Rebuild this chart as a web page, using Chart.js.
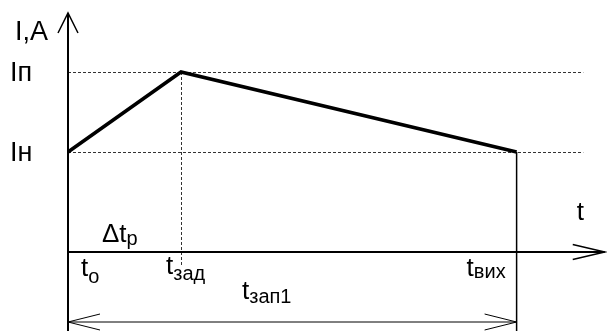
<!DOCTYPE html>
<html>
<head>
<meta charset="utf-8">
<script src="https://cdn.jsdelivr.net/npm/chart.js@4"></script>
<style>
	body{margin:0;background:#fff;}
	#wrap{width:607px;height:331px;}
</style>
</head>
<body>
<div id="wrap"><canvas id="chart" width="607" height="331"></canvas></div>
<script>
// time marks: t_o, t_зад, t_вих (in units of t_зад - t_o)
const timeValues = [0, 1, 3.97];
const timeSubs = ["о", "зад", "вих"];
// current at those marks (in units of Iн)
const currentValues = [1, 1.8, 1];
// level labels on the I axis
const levelValues = [1, 1.8];
const levelLabels = ["Iн", "Iп"];

const FONT = "Liberation Sans, Arial, sans-serif";

const textSub = function(ctx, x, y, main, sub, size, subSize, drop){
	ctx.font = size+"px "+FONT;
	ctx.fillText(main, x, y);
	let w = ctx.measureText(main).width;
	ctx.font = subSize+"px "+FONT;
	ctx.fillText(sub, x+w, y+drop);
};

const arrowHead = function(ctx, x, y, dx, dy, len, half){
	// open arrow, tip at x,y pointing along dx,dy
	let px = -dy, py = dx;
	ctx.beginPath();
	ctx.moveTo(x - dx*len + px*half, y - dy*len + py*half);
	ctx.lineTo(x, y);
	ctx.lineTo(x - dx*len - px*half, y - dy*len - py*half);
	ctx.stroke();
};

const diagram = {
	id:"diagram",
	beforeDatasetsDraw(chart){
		const ctx = chart.ctx, xs = chart.scales.x, ys = chart.scales.y;
		const x0 = xs.getPixelForValue(0), y0 = ys.getPixelForValue(0);
		const xZad = xs.getPixelForValue(timeValues[1]);
		const xVih = xs.getPixelForValue(timeValues[2]);
		const xGuideEnd = xs.getPixelForValue(4.56);
		ctx.save();

		// dashed level guides
		ctx.strokeStyle = "#333";
		ctx.lineWidth = 1;
		ctx.setLineDash([3,2]);
		levelValues.forEach(v => {
			let y = Math.round(ys.getPixelForValue(v)) + .5;
			ctx.beginPath();
			ctx.moveTo(x0, y);
			ctx.lineTo(xGuideEnd, y);
			ctx.stroke();
		});
		// dashed guide down from peak
		ctx.beginPath();
		ctx.moveTo(Math.round(xZad)+.5, ys.getPixelForValue(currentValues[1]));
		ctx.lineTo(Math.round(xZad)+.5, ys.getPixelForValue(-0.15));
		ctx.stroke();
		ctx.setLineDash([]);

		// axes
		ctx.strokeStyle = "#000";
		ctx.lineWidth = 2;
		const yTop = ys.getPixelForValue(2.39), yBottom = ys.getPixelForValue(-0.79);
		const xRight = xs.getPixelForValue(4.75);
		ctx.beginPath();
		ctx.moveTo(x0, yBottom);
		ctx.lineTo(x0, yTop);
		ctx.moveTo(x0, y0);
		ctx.lineTo(xRight, y0);
		ctx.stroke();
		ctx.lineWidth = 1.5;
		arrowHead(ctx, x0, yTop, 0, -1, 20, 10);
		arrowHead(ctx, xRight, y0, 1, 0, 32, 7.5);

		// end of pulse: solid drop line
		ctx.lineWidth = 1.5;
		ctx.beginPath();
		ctx.moveTo(xVih, ys.getPixelForValue(currentValues[2]));
		ctx.lineTo(xVih, yBottom);
		ctx.stroke();

		// dimension line t_зап1
		const yDim = ys.getPixelForValue(-0.70);
		ctx.lineWidth = 1;
		ctx.beginPath();
		ctx.moveTo(x0, yDim);
		ctx.lineTo(xVih, yDim);
		ctx.stroke();
		arrowHead(ctx, x0, yDim, -1, 0, 32, 8);
		arrowHead(ctx, xVih, yDim, 1, 0, 32, 8);

		// texts
		ctx.fillStyle = "#000";
		ctx.textBaseline = "alphabetic";
		ctx.textAlign = "left";
		ctx.font = "27px "+FONT;
		ctx.fillText("I,A", 15, 40);
		levelValues.forEach((v, i) => {
			ctx.fillText(levelLabels[i], 10, ys.getPixelForValue(v) + 9);
		});
		ctx.font = "26px "+FONT;
		ctx.fillText("t", xRight - 28, 220);

		textSub(ctx, x0 + 13, y0 + 24, "t", timeSubs[0], 26, 20, 7);
		textSub(ctx, xZad - 15, y0 + 22, "t", timeSubs[1], 26, 20, 6);
		textSub(ctx, xVih - 50, y0 + 24, "t", timeSubs[2], 26, 20, 2);
		textSub(ctx, 242, 299, "t", "зап1", 26, 20, 4);
		textSub(ctx, 102, 242, "\u0394t", "p", 26, 20, 3);
		ctx.restore();
	}
};

new Chart(document.getElementById("chart"), {
	type:"line",
	data:{
		datasets:[{
			data: timeValues.map((t, i) => ({x:t, y:currentValues[i]})),
			borderColor:"#000",
			borderWidth:3.5,
			pointRadius:0,
			tension:0,
			fill:false
		}]
	},
	options:{
		responsive:false,
		animation:false,
		events:[],
		layout:{padding:0},
		plugins:{legend:{display:false}, tooltip:{enabled:false}},
		scales:{
			x:{type:"linear", display:false, min:-68/113, max:(607-68)/113},
			y:{type:"linear", display:false, min:-0.79, max:2.52}
		}
	},
	plugins:[diagram]
});
</script>
</body>
</html>
